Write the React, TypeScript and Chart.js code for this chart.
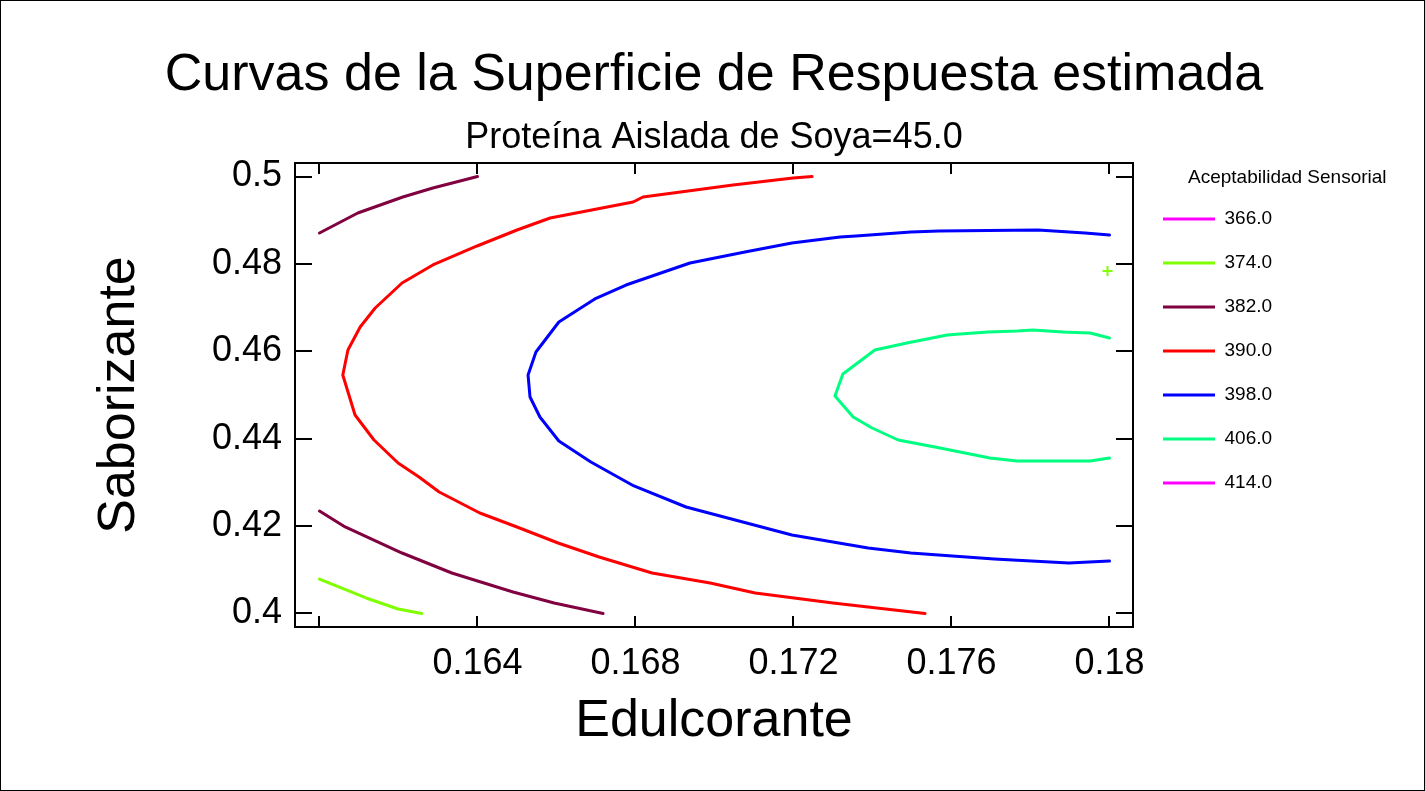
import { useEffect, useRef } from 'react';
import { Chart, registerables } from 'chart.js';

Chart.register(...registerables);

const FONT = '"Liberation Sans", Arial, sans-serif';

const chartTitle = 'Curvas de la Superficie de Respuesta estimada';
const chartSubtitle = 'Proteína Aislada de Soya=45.0';
const xTitle = 'Edulcorante';
const yTitle = 'Saborizante';
const legendTitle = 'Aceptabilidad Sensorial';

const xMin = 0.15938;
const xMax = 0.180595;
const yMin = 0.39691;
const yMax = 0.50309;

const xTickValues = [0.16, 0.164, 0.168, 0.172, 0.176, 0.18];
const xTickLabels = ['', '0.164', '0.168', '0.172', '0.176', '0.18'];
const yTickValues = [0.4, 0.42, 0.44, 0.46, 0.48, 0.5];
const yTickLabels = ['0.4', '0.42', '0.44', '0.46', '0.48', '0.5'];

const levels = [366.0, 374.0, 382.0, 390.0, 398.0, 406.0, 414.0];
const levelLabels = ['366.0', '374.0', '382.0', '390.0', '398.0', '406.0', '414.0'];
const levelColors = ['#FF00FF', '#80FF00', '#800040', '#FF0000', '#0000FF', '#00FF80', '#FF00FF'];

// contour 374.0
const c374aX = [0.16, 0.16118, 0.16199, 0.16259];
const c374aY = [0.40789, 0.40355, 0.40103, 0.4];
const c374bX = [0.17995];
const c374bY = [0.47838];

// contour 382.0
const c382aX = [0.16, 0.16097, 0.16211, 0.16287, 0.164];
const c382aY = [0.48707, 0.49165, 0.49531, 0.49737, 0.5];
const c382bX = [0.16, 0.16065, 0.16209, 0.16335, 0.1649, 0.16594, 0.16718];
const c382bY = [0.42346, 0.4198, 0.41384, 0.40927, 0.40492, 0.4024, 0.4];

// contour 390.0
const c390X = [0.17247, 0.17199, 0.17047, 0.16819, 0.16794, 0.16584, 0.165, 0.16399, 0.16287, 0.16209,
  0.16141, 0.16103, 0.16072, 0.16059, 0.1609, 0.16138, 0.16199, 0.16252, 0.16303, 0.16406,
  0.165, 0.16604, 0.16708, 0.16842, 0.16989, 0.17103, 0.173, 0.17533];
const c390Y = [0.5, 0.49966, 0.49805, 0.49531, 0.49416, 0.4905, 0.48776, 0.4841, 0.47975, 0.47563,
  0.46991, 0.46556, 0.4603, 0.45458, 0.44542, 0.4397, 0.43444, 0.43124, 0.4278, 0.423,
  0.4198, 0.41613, 0.41293, 0.40927, 0.40698, 0.40469, 0.4024, 0.4];

// contour 398.0
const c398X = [0.18, 0.17938, 0.17819, 0.17568, 0.17497, 0.17358, 0.17318, 0.17196, 0.17077, 0.16938,
  0.16776, 0.16697, 0.16606, 0.16548, 0.16528, 0.16533, 0.16558, 0.16606, 0.16687, 0.16796,
  0.16928, 0.17196, 0.17389, 0.17497, 0.17708, 0.17897, 0.18];
const c398Y = [0.48661, 0.48707, 0.48776, 0.48753, 0.4873, 0.48638, 0.48616, 0.48478, 0.48272, 0.4802,
  0.47517, 0.47197, 0.4667, 0.45984, 0.45458, 0.44954, 0.44497, 0.43947, 0.43467, 0.42918,
  0.42437, 0.41796, 0.41499, 0.41384, 0.41247, 0.41156, 0.41201];

// contour 406.0
const c406X = [0.18, 0.17951, 0.17882, 0.17806, 0.17766, 0.17692, 0.17622, 0.17589, 0.17538, 0.17487,
  0.17406, 0.17325, 0.17305, 0.17351, 0.17399, 0.17465, 0.17571, 0.17697, 0.17766, 0.17951, 0.18];
const c406Y = [0.46304, 0.46419, 0.46442, 0.46487, 0.46465, 0.46442, 0.46396, 0.46373, 0.46281, 0.4619,
  0.4603, 0.45481, 0.44977, 0.44497, 0.44245, 0.4397, 0.43787, 0.43558, 0.4349, 0.4349, 0.43558];

const zip = (xs: number[], ys: number[]) => xs.map((x, i) => ({ x, y: ys[i] }));

const lineSet = (levelIndex: number, xs: number[], ys: number[]) => ({
  label: levelLabels[levelIndex],
  data: zip(xs, ys),
  borderColor: levelColors[levelIndex],
  backgroundColor: levelColors[levelIndex],
  borderWidth: 3,
  showLine: true,
  pointRadius: 0,
  tension: 0,
  borderJoinStyle: 'round' as const,
  borderCapStyle: 'round' as const,
  fill: false,
});

const legendTitlePlugin = {
  id: 'legendTitleText',
  afterDraw(chart: any) {
    const l = chart.legend;
    if (!l) return;
    const ctx = chart.ctx;
    ctx.save();
    ctx.font = `19px ${FONT}`;
    ctx.fillStyle = '#000';
    ctx.textAlign = 'left';
    ctx.textBaseline = 'middle';
    ctx.fillText(legendTitle, l.left + 50, l.top + 15);
    ctx.restore();
  },
};

export default function App() {
  const ref = useRef<HTMLCanvasElement>(null);

  useEffect(() => {
    if (!ref.current) return;
    const tickGrid = (len: number) => ({
      display: true,
      drawOnChartArea: false,
      drawTicks: true,
      tickLength: len,
      color: '#000',
      lineWidth: 2,
    });
    const border = { display: true, color: '#000', width: 2 };

    const chart = new Chart(ref.current, {
      type: 'scatter',
      data: {
        datasets: [
          lineSet(1, c374aX, c374aY),
          {
            label: levelLabels[1],
            data: zip(c374bX, c374bY),
            borderColor: levelColors[1],
            backgroundColor: levelColors[1],
            showLine: false,
            pointStyle: 'cross',
            pointRadius: 5,
            pointBorderWidth: 2,
          } as any,
          lineSet(2, c382aX, c382aY),
          lineSet(2, c382bX, c382bY),
          lineSet(3, c390X, c390Y),
          lineSet(4, c398X, c398Y),
          lineSet(5, c406X, c406Y),
        ],
      },
      options: {
        responsive: false,
        devicePixelRatio: 1,
        animation: false,
        events: [],
        layout: { padding: { left: 149, top: 0, bottom: 0, right: 146 } },
        font: { family: FONT },
        plugins: {
          title: {
            display: true,
            text: chartTitle,
            color: '#000',
            fullSize: true,
            font: { family: FONT, size: 52, weight: 'normal' },
            padding: { top: 43, bottom: 0 },
          },
          subtitle: {
            display: true,
            text: chartSubtitle,
            color: '#000',
            fullSize: false,
            font: { family: FONT, size: 36, weight: 'normal' },
            padding: { top: 10, bottom: 3.4 },
          },
          legend: {
            display: true,
            position: 'right',
            align: 'start',
            fullSize: false,
            maxWidth: 140,
            title: {
              display: true,
              text: '',
              font: { family: FONT, size: 19, lineHeight: 1 },
              padding: { top: 2.5, bottom: 0 },
            },
            labels: {
              boxWidth: 52,
              boxHeight: 3,
              padding: 25,
              color: '#000',
              font: { family: FONT, size: 19 },
              generateLabels: () =>
                levels.map((_lv, i) => ({
                  text: levelLabels[i],
                  fillStyle: levelColors[i],
                  strokeStyle: levelColors[i],
                  lineWidth: 0,
                  hidden: false,
                  fontColor: '#000',
                  datasetIndex: 0,
                })),
            },
          },
          tooltip: { enabled: false },
        },
        scales: {
          x: {
            type: 'linear',
            position: 'bottom',
            min: xMin,
            max: xMax,
            afterBuildTicks: (axis: any) => {
              axis.ticks = xTickValues.map((v) => ({ value: v }));
            },
            afterFit: (axis: any) => {
              axis.height = 163;
            },
            ticks: {
              autoSkip: false,
              maxRotation: 0,
              color: '#000',
              padding: 26,
              font: { family: FONT, size: 36 },
              callback: (_v: any, i: number) => xTickLabels[i],
            },
            grid: tickGrid(-11),
            border,
            title: {
              display: true,
              text: xTitle,
              color: '#000',
              font: { family: FONT, size: 52 },
              padding: { top: 0, bottom: 37 },
            },
          },
          x2: {
            type: 'linear',
            position: 'top',
            min: xMin,
            max: xMax,
            afterBuildTicks: (axis: any) => {
              axis.ticks = xTickValues.map((v) => ({ value: v }));
            },
            afterFit: (axis: any) => {
              axis.height = 0;
            },
            ticks: { display: false },
            grid: tickGrid(-11),
            border,
          },
          y: {
            type: 'linear',
            position: 'left',
            min: yMin,
            max: yMax,
            afterBuildTicks: (axis: any) => {
              axis.ticks = yTickValues.map((v) => ({ value: v }));
            },
            afterFit: (axis: any) => {
              axis.width = 145;
            },
            ticks: {
              autoSkip: false,
              color: '#000',
              padding: 30,
              font: { family: FONT, size: 36 },
              callback: (_v: any, i: number) => yTickLabels[i],
            },
            grid: tickGrid(-17),
            border,
            title: {
              display: true,
              text: yTitle,
              color: '#000',
              font: { family: FONT, size: 52 },
              padding: { top: -61.2, bottom: 0 },
            },
          },
          y2: {
            type: 'linear',
            position: 'right',
            min: yMin,
            max: yMax,
            afterBuildTicks: (axis: any) => {
              axis.ticks = yTickValues.map((v) => ({ value: v }));
            },
            afterFit: (axis: any) => {
              axis.width = 5;
            },
            ticks: { display: false },
            grid: tickGrid(-17),
            border,
          },
        },
      } as any,
      plugins: [legendTitlePlugin],
    });
    return () => chart.destroy();
  }, []);

  return (
    <div
      style={{
        position: 'absolute',
        left: 0,
        top: 0,
        width: 1423,
        height: 789,
        border: '1px solid #000',
        background: '#fff',
      }}
    >
      <canvas ref={ref} width={1423} height={789} style={{ display: 'block', width: 1423, height: 789 }} />
    </div>
  );
}
